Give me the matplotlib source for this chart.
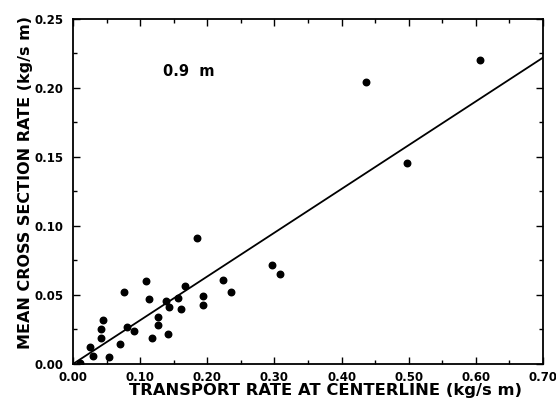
import matplotlib
matplotlib.use("Agg")
import matplotlib.pyplot as plt
from matplotlib.ticker import MultipleLocator
import numpy as np

# Data
transport_x = [0.010, 0.025, 0.030, 0.041, 0.042, 0.045, 0.053, 0.070, 0.076, 0.080,
               0.091, 0.109, 0.113, 0.118, 0.126, 0.127, 0.138, 0.141, 0.143, 0.157,
               0.161, 0.167, 0.184, 0.193, 0.193, 0.224, 0.235, 0.297, 0.308, 0.437,
               0.497, 0.606]
mean_rate_y = [0.001, 0.0125, 0.0055, 0.025, 0.019, 0.032, 0.005, 0.0145, 0.052, 0.027,
               0.024, 0.060, 0.047, 0.019, 0.034, 0.028, 0.046, 0.022, 0.0415, 0.048,
               0.040, 0.0565, 0.091, 0.049, 0.043, 0.061, 0.052, 0.072, 0.065, 0.204,
               0.146, 0.220]
fit_x = [0.0, 0.70]
fit_y = [0.0, 0.222]

xticks = [0.00, 0.10, 0.20, 0.30, 0.40, 0.50, 0.60, 0.70]
yticks = [0.00, 0.05, 0.10, 0.15, 0.20, 0.25]

fig = plt.figure(figsize=(5.56, 4.03), dpi=100)
ax = fig.add_axes([0.1313, 0.0968, 0.8453, 0.8561])

ax.plot(fit_x, fit_y, color="black", lw=1.3)
ax.scatter(transport_x, mean_rate_y, s=22, color="black", zorder=3)

ax.set_xlim(0, 0.70)
ax.set_ylim(0, 0.25)
ax.set_xticks(xticks)
ax.set_yticks(yticks)
ax.set_xticklabels([f"{v:.2f}" for v in xticks], fontsize=8.5, fontweight="bold")
ax.set_yticklabels([f"{v:.2f}" for v in yticks], fontsize=8.5, fontweight="bold")
ax.xaxis.set_minor_locator(MultipleLocator(0.05))
ax.yaxis.set_minor_locator(MultipleLocator(0.025))
ax.tick_params(which="both", direction="in", top=True, right=True, width=1)
ax.tick_params(which="major", length=5)
ax.tick_params(axis="x", which="major", pad=5)
ax.tick_params(axis="y", which="major", pad=7)
ax.tick_params(which="minor", length=3)
for s in ax.spines.values():
    s.set_linewidth(1.3)

ax.set_xlabel("TRANSPORT RATE AT CENTERLINE (kg/s m)", fontsize=11.8,
              fontweight="bold")
ax.xaxis.set_label_coords(0.537, -0.055)
ax.set_ylabel("MEAN CROSS SECTION RATE (kg/s m)", fontsize=11.5,
              fontweight="bold")
ax.yaxis.set_label_coords(-0.085, 0.525)
ax.text(0.173, 0.212, "0.9  m", fontsize=10.5, fontweight="bold",
        ha="center", va="center")

fig.savefig("out.png", dpi=100)
